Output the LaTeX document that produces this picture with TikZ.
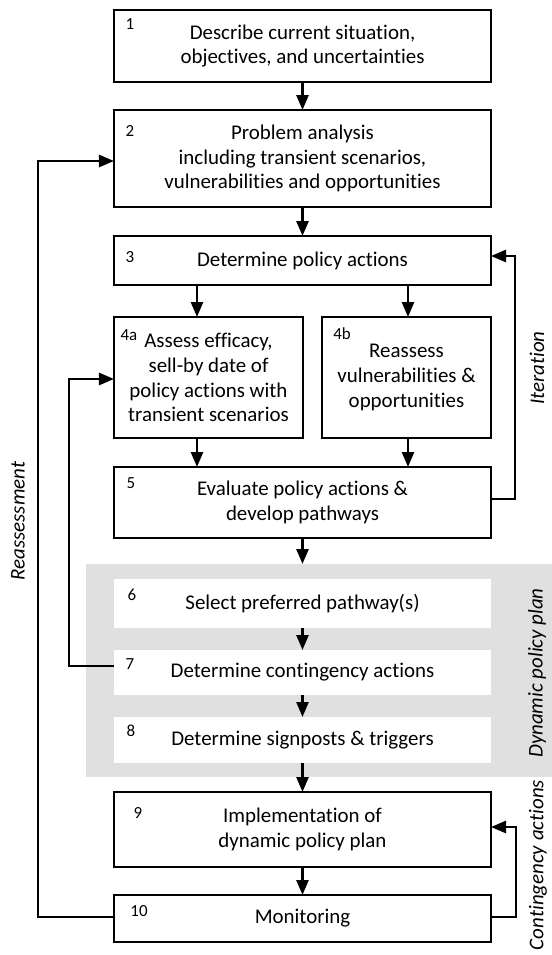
\documentclass[tikz,border=0pt]{standalone}
\usepackage{fontspec}
\setmainfont{Carlito}[Ligatures=NoCommon]
\usetikzlibrary{arrows.meta}
\newcommand\mainfs{\fontsize{21}{25}\selectfont}
\newcommand\numfs{\fontsize{17}{18}\selectfont}
\definecolor{planGray}{RGB}{224,224,224}
\begin{document}
\begin{tikzpicture}[x=1bp,y=-1bp,
  box/.style={draw, line width=1.5bp, inner sep=0pt, outer sep=0pt, align=center, font=\mainfs},
  wbox/.style={fill=white, inner sep=0pt, outer sep=0pt, align=center, font=\mainfs},
  num/.style={inner sep=0pt, font=\numfs},
  arr/.style={line width=2.6bp, -{Triangle[length=15bp,width=12bp]}},
  side/.style={rotate=90, font=\mainfs\itshape, inner sep=0pt}]
\useasboundingbox (0,0) rectangle (552,955);
% plan background
\node[fill=planGray, inner sep=0pt, outer sep=0pt, minimum width=466bp, minimum height=212.5bp] (dpp) at (319,670.25) {};
% boxes
\node[box, minimum width=377bp, minimum height=72bp] (b1) at (302.5,46) {Describe current situation,\\objectives, and uncertainties};
\node[box, minimum width=377bp, minimum height=97bp] (b2) at (302.5,158.5) {Problem analysis\\including transient scenarios,\\vulnerabilities and opportunities};
\node[box, minimum width=377bp, minimum height=49bp] (b3) at (302.5,260.5) {Determine policy actions};
\node[box, minimum width=189bp, minimum height=121bp] (b4a) at (208.5,377.5) {Assess efficacy,\\sell-by date of\\policy actions with\\transient scenarios};
\node[box, minimum width=169bp, minimum height=121bp] (b4b) at (406.5,377.5) {Reassess\\vulnerabilities \&\\opportunities};
\node[box, minimum width=377bp, minimum height=71bp] (b5) at (302.5,502.5) {Evaluate policy actions \&\\develop pathways};
\node[wbox, minimum width=377bp, minimum height=49bp] (b6) at (302.5,603.5) {Select preferred pathway(s)};
\node[wbox, minimum width=377bp, minimum height=45bp] (b7) at (302.5,672.5) {Determine contingency actions};
\node[wbox, minimum width=377bp, minimum height=46bp] (b8) at (302.5,740) {Determine signposts \& triggers};
\node[box, minimum width=377bp, minimum height=75bp] (b9) at (302.5,829.5) {Implementation of\\dynamic policy plan};
\node[box, minimum width=377bp, minimum height=47bp] (b10) at (302.5,918.5) {Monitoring};
% numbers
\node[num] (n1) at (130,24.5) {1};
\node[num] (n2) at (130,131) {2};
\node[num] (n3) at (130,257.5) {3};
\node[num] (n4a) at (129,335) {4a};
\node[num] (n4b) at (342,334) {4b};
\node[num] (n5) at (131,483) {5};
\node[num] (n6) at (132,594.5) {6};
\node[num] (n7) at (130,664) {7};
\node[num] (n8) at (131,731) {8};
\node[num] (n9) at (138,812.5) {9};
\node[num] (n10) at (139,911.5) {10};
% helper coordinates
\coordinate (xa) at (197,0);
\coordinate (xb) at (408,0);
\coordinate (itx) at (515,0);
\coordinate (cox) at (516,0);
\coordinate (rex) at (38,0);
\coordinate (ctx) at (69,0);
\coordinate (y5) at (0,499);
\coordinate (y3) at (0,256);
\coordinate (y10) at (0,917);
\coordinate (y9) at (0,827);
\coordinate (y2) at (0,161);
\coordinate (y7) at (0,666);
\coordinate (y4) at (0,379);
% main flow
\draw[arr] (b1) -- (b2);
\draw[arr] (b2) -- (b3);
\draw[arr] (b3.south -| xa) -- (b4a.north -| xa);
\draw[arr] (b3.south -| xb) -- (b4b.north -| xb);
\draw[arr] (b4a.south -| xa) -- (b5.north -| xa);
\draw[arr] (b4b.south -| xb) -- (b5.north -| xb);
\draw[arr] (b5.south) -- (b5.south |- dpp.north);
\draw[arr] (b6) -- (b7);
\draw[arr] (b7) -- (b8);
\draw[arr] (b8) -- (b9);
\draw[arr] (b9) -- (b10);
% loops
\draw[arr] (b5.east |- y5) -| (itx |- y3) -- (b3.east |- y3);
\draw[arr] (b10.east |- y10) -| (cox |- y9) -- (b9.east |- y9);
\draw[arr] (b10.west |- y10) -| (rex |- y2) -- (b2.west |- y2);
\draw[arr] (b7.west |- y7) -| (ctx |- y4) -- (b4a.west |- y4);
% side labels
\node[side] (lit) at (537,368) {Iteration};
\node[side] (ldp) at (537,673) {Dynamic policy plan};
\node[side] (lca) at (538,865) {Contingency actions};
\node[side] (lre) at (18,521) {Reassessment};
\end{tikzpicture}
\end{document}
